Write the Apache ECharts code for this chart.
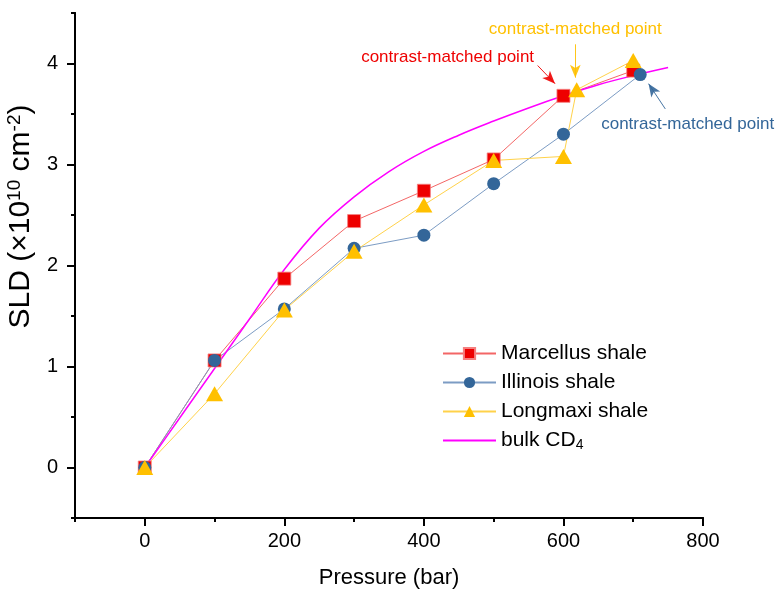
<!DOCTYPE html>
<html>
<head>
<meta charset="utf-8">
<script src="https://cdn.jsdelivr.net/npm/echarts@6/dist/echarts.min.js"></script>
<style>
  html, body { margin: 0; padding: 0; background: #fff; }
  #chart { width: 777px; height: 599px; }
</style>
</head>
<body>
<div id="chart"></div>
<script>
// data
const pressureMarcellus = [0, 100, 200, 300, 400, 500, 600, 700];
const sldMarcellus = [0, 1.06, 1.87, 2.44, 2.74, 3.05, 3.68, 3.93];

const pressureIllinois = [0, 100, 200, 300, 400, 500, 600, 710];
const sldIllinois = [0, 1.06, 1.57, 2.17, 2.30, 2.81, 3.30, 3.89];

const pressureLongmaxi = [0, 100, 200, 300, 400, 500, 600, 619, 700];
const sldLongmaxi = [0, 0.73, 1.56, 2.14, 2.60, 3.04, 3.08, 3.74, 4.03];

const pressureBulk = [0, 50, 100, 150, 200, 250, 300, 350, 400, 450, 500, 550, 600, 650, 700, 750];
const sldBulk = [0, 0.49, 0.98, 1.47, 1.96, 2.37, 2.68, 2.93, 3.13, 3.29, 3.43, 3.56, 3.68, 3.79, 3.88, 3.96];

const xMajorTicks = [0, 200, 400, 600, 800];
const xMinorTicks = [-100, 100, 300, 500, 700];
const yMajorTicks = [0, 1, 2, 3, 4];
const yMinorTicks = [-0.5, 0.5, 1.5, 2.5, 3.5, 4.5];

const seriesNames = ['Marcellus shale', 'Illinois shale', 'Longmaxi shale', 'bulk CD4'];

// annotation arrows [from, to] and text anchors, in data units
const redArrow = [[563, 3.98], [588, 3.80]];
const redNote = [434, 4.06];
const yellowArrow = [[617, 4.19], [617, 3.86]];
const yellowNote = [617, 4.34];
const blueArrow = [[746, 3.55], [722, 3.80]];
const blueNote = [778, 3.40];

const FONT = 'Liberation Sans, Arial, sans-serif';
const RED = '#EE0000', BLUE = '#336699', YELLOW = '#FFC000', MAGENTA = '#FF00FF';

function pairs(xs, ys) {
  return xs.map((x, i) => [x, ys[i]]);
}

function arrow(pts, color) {
  return {
    silent: true,
    symbol: ['none', 'arrow'],
    symbolSize: [8, 13],
    label: { show: false },
    lineStyle: { color: color, width: 1, type: 'solid', opacity: 0.9 },
    data: [[{ coord: pts[0] }, { coord: pts[1] }]]
  };
}

function note(pos, color) {
  return {
    silent: true,
    symbol: 'circle',
    symbolSize: 0,
    label: {
      show: true, position: 'inside', formatter: 'contrast-matched point',
      color: color, fontSize: 17, fontFamily: FONT
    },
    data: [{ coord: pos }]
  };
}

const axisBase = {
  type: 'value',
  axisLine: { show: true, onZero: false, lineStyle: { color: '#000', width: 2 } },
  splitLine: { show: false }
};

const chart = echarts.init(document.getElementById('chart'));
chart.setOption({
  animation: false,
  backgroundColor: '#fff',
  textStyle: { fontFamily: FONT },
  grid: { left: 75, right: 74, top: 13, bottom: 81, containLabel: false, outerBoundsMode: 'none' },
  legend: {
    orient: 'vertical',
    left: 437,
    top: 338,
    itemWidth: 53,
    itemHeight: 14,
    itemGap: 8,
    data: [
      seriesNames[0], seriesNames[1], seriesNames[2],
      { name: seriesNames[3], itemStyle: { opacity: 0 } }
    ],
    formatter: n => n === 'bulk CD4' ? 'bulk CD{sub|4}' : n,
    textStyle: {
      fontSize: 21, color: '#000', fontFamily: FONT,
      rich: { sub: { fontSize: 14, verticalAlign: 'bottom', fontFamily: FONT, padding: [10, 0, 0, 0] } }
    }
  },
  xAxis: [
    Object.assign({}, axisBase, {
      min: -100, max: 800,
      name: 'Pressure (bar)',
      nameLocation: 'middle',
      nameGap: 49,
      nameTextStyle: { fontSize: 22, color: '#000', fontFamily: FONT },
      axisTick: { show: true, inside: false, length: 8, lineStyle: { width: 2, color: '#000' }, customValues: xMajorTicks },
      axisLabel: { show: true, color: '#000', fontSize: 20, margin: 13, customValues: xMajorTicks }
    }),
    Object.assign({}, axisBase, {
      min: -100, max: 800,
      position: 'bottom',
      axisTick: { show: true, length: 4, lineStyle: { width: 2, color: '#000' }, customValues: xMinorTicks },
      axisLabel: { show: false }
    })
  ],
  yAxis: [
    Object.assign({}, axisBase, {
      min: -0.5, max: 4.5,
      name: 'SLD (×10{sup|10} cm{sup|-2})',
      nameLocation: 'middle',
      nameRotate: 90,
      nameGap: 35,
      nameTextStyle: {
        fontSize: 30, color: '#000', fontFamily: FONT, padding: [0, 0, 0, 98],
        rich: { sup: { fontSize: 19, verticalAlign: 'top', fontFamily: FONT, padding: [0, 0, 13, 0] } }
      },
      axisTick: { show: true, length: 8, lineStyle: { width: 2, color: '#000' }, customValues: yMajorTicks },
      axisLabel: { show: true, color: '#000', fontSize: 20, margin: 17, customValues: yMajorTicks }
    }),
    Object.assign({}, axisBase, {
      min: -0.5, max: 4.5,
      position: 'left',
      axisTick: { show: true, length: 4, lineStyle: { width: 2, color: '#000' }, customValues: yMinorTicks },
      axisLabel: { show: false }
    })
  ],
  series: [
    {
      name: seriesNames[0], type: 'line',
      data: pairs(pressureMarcellus, sldMarcellus),
      symbol: 'rect', symbolSize: 13,
      itemStyle: { color: RED, borderColor: '#F58080', borderWidth: 0.8 },
      lineStyle: { color: '#F04040', width: 1, opacity: 0.8 },
      markLine: arrow(redArrow, RED),
      markPoint: note(redNote, RED)
    },
    {
      name: seriesNames[1], type: 'line',
      data: pairs(pressureIllinois, sldIllinois),
      symbol: 'circle', symbolSize: 13,
      itemStyle: { color: BLUE },
      lineStyle: { color: '#7C9CC4', width: 1 },
      markLine: arrow(blueArrow, BLUE),
      markPoint: note(blueNote, BLUE)
    },
    {
      name: seriesNames[2], type: 'line',
      data: pairs(pressureLongmaxi, sldLongmaxi),
      symbol: 'triangle', symbolSize: [17, 15],
      itemStyle: { color: YELLOW },
      lineStyle: { color: '#FFD24A', width: 1 },
      markLine: arrow(yellowArrow, YELLOW),
      markPoint: note(yellowNote, YELLOW)
    },
    {
      name: seriesNames[3], type: 'line',
      data: pairs(pressureBulk, sldBulk),
      smooth: 0.4,
      symbol: 'none', showSymbol: false,
      itemStyle: { color: MAGENTA },
      lineStyle: { color: MAGENTA, width: 1.5 }
    }
  ]
});
</script>
</body>
</html>
